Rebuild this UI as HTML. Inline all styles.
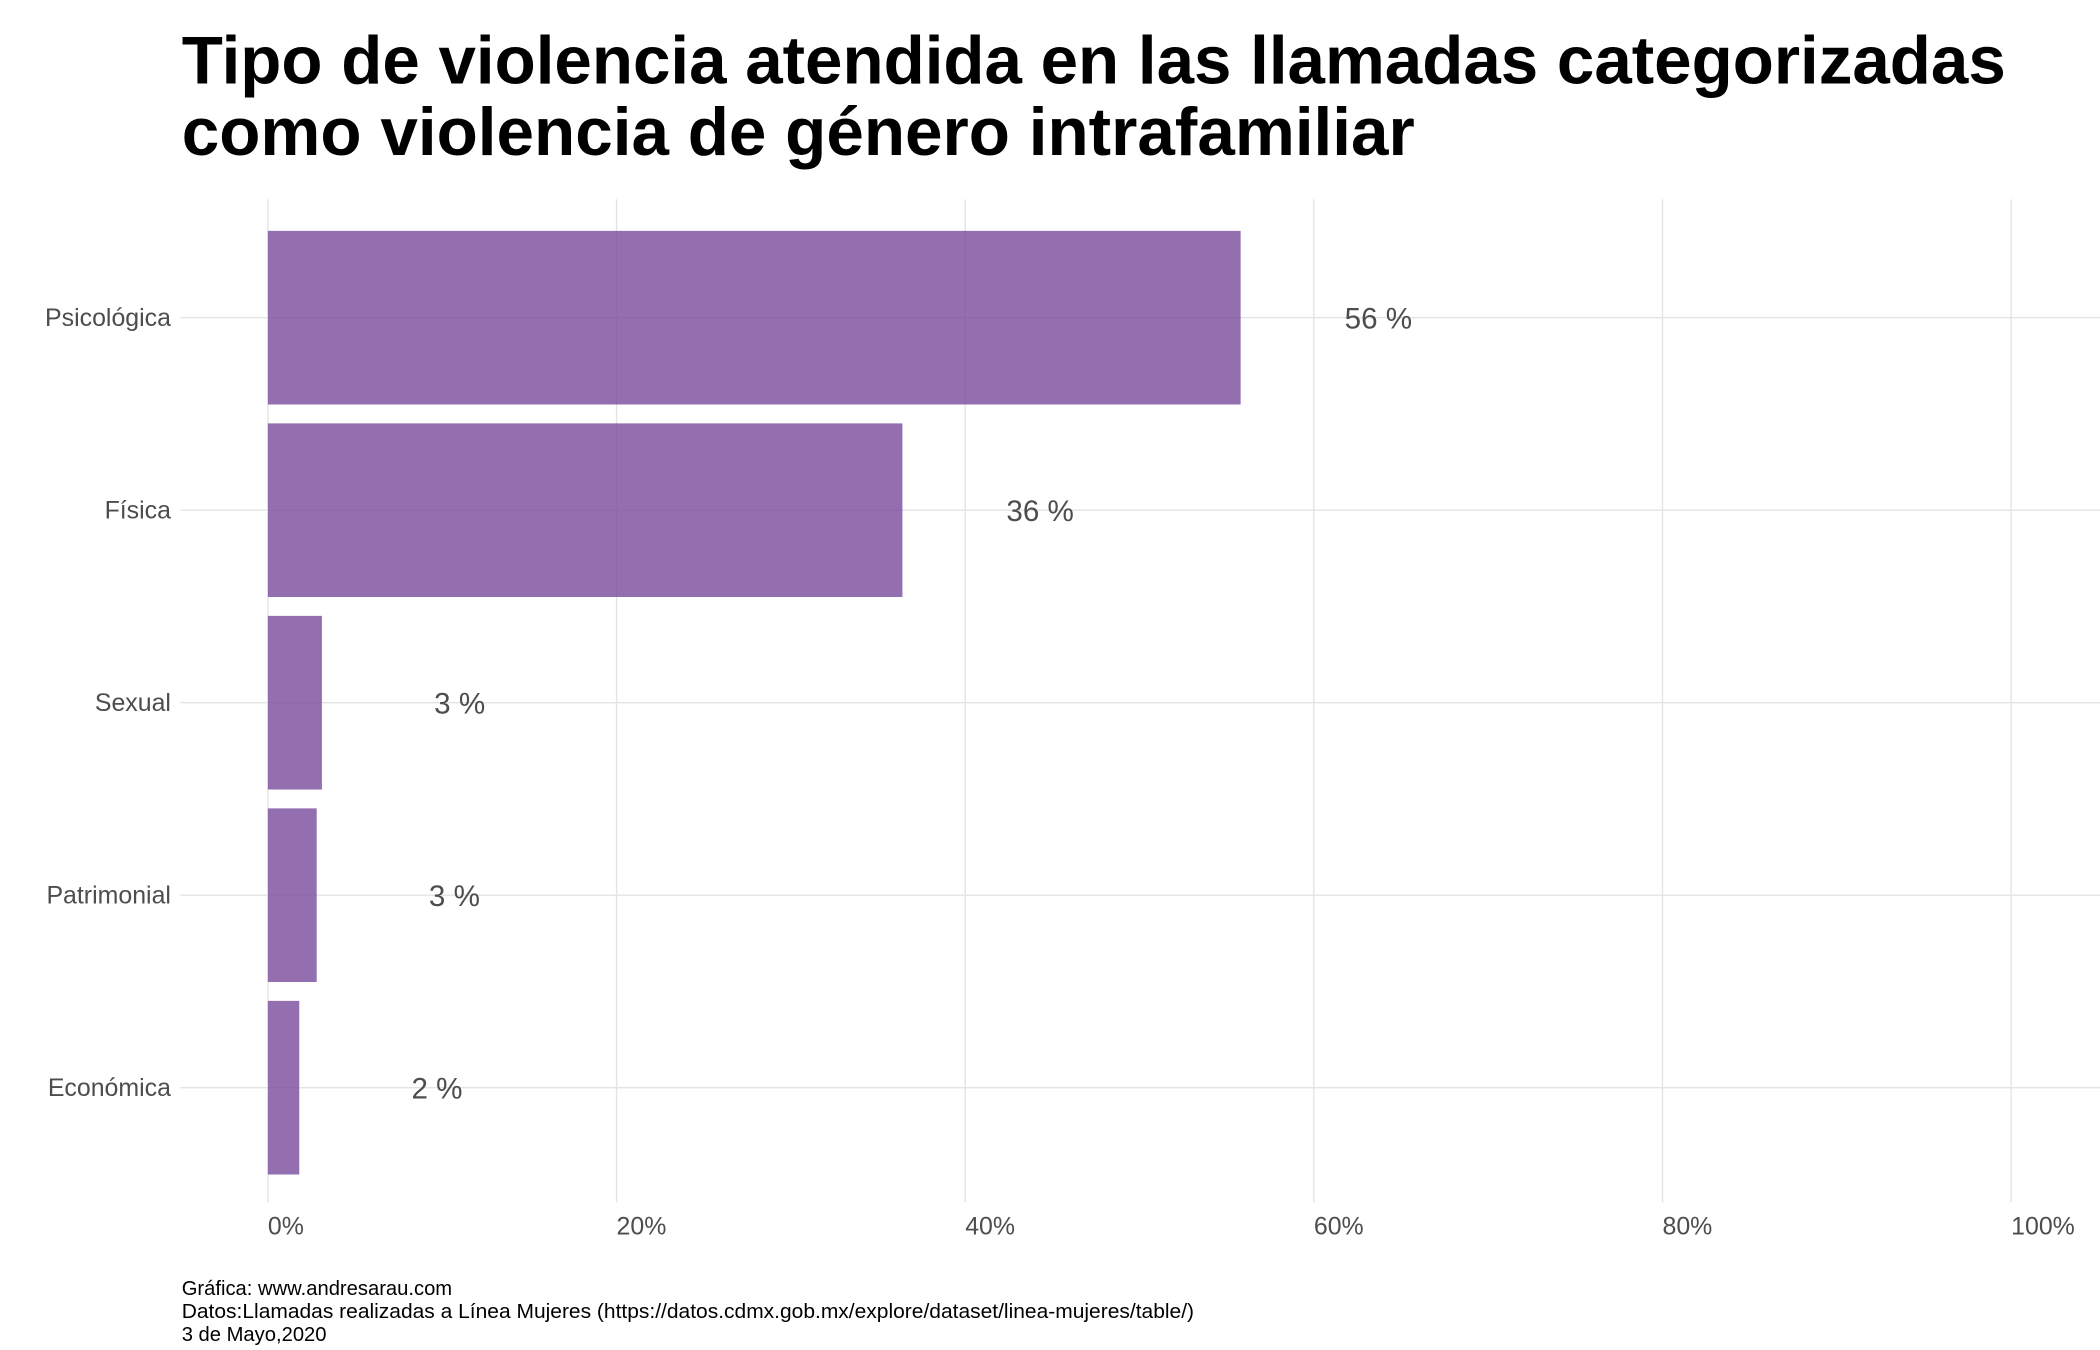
<!DOCTYPE html>
<html><head><meta charset="utf-8"><style>html,body{margin:0;padding:0;background:#fff}svg{display:block}</style></head>
<body>
<svg id="chart" width="2100" height="1350" viewBox="0 0 1560 1002.86" preserveAspectRatio="none" xmlns="http://www.w3.org/2000/svg" font-family="'Liberation Sans', Arial, sans-serif">
<text x="135" y="62" font-size="50" font-weight="bold" fill="#000" textLength="1355" lengthAdjust="spacingAndGlyphs">Tipo de violencia atendida en las llamadas categorizadas</text>
<text x="135" y="115" font-size="50" font-weight="bold" fill="#000" textLength="916" lengthAdjust="spacingAndGlyphs">como violencia de género intrafamiliar</text>
<g id="grid"></g><g id="bars"></g><g id="labels"></g>
<g font-size="15" fill="#000">
<text x="135" y="962">Gráfica: www.andresarau.com</text>
<text x="135" y="979" textLength="752" lengthAdjust="spacingAndGlyphs">Datos:Llamadas realizadas a Línea Mujeres (https://datos.cdmx.gob.mx/explore/dataset/linea-mujeres/table/)</text>
<text x="135" y="996">3 de Mayo,2020</text>
</g>
</svg>
<script>
const categories = ["Psicológica","Física","Sexual","Patrimonial","Económica"];
const values = [55.8, 36.4, 3.1, 2.8, 1.8];
const valueLabels = ["56 %","36 %","3 %","3 %","2 %"];
const xTicks = [0,20,40,60,80,100];
const xTickLabels = ["0%","20%","40%","60%","80%","100%"];
const NS="http://www.w3.org/2000/svg";
const x = v => 199 + v*12.95;
const y = i => 236 + i*143;
function mk(tag, attrs, parent, txt){const e=document.createElementNS(NS,tag);for(const k in attrs)e.setAttribute(k,attrs[k]);if(txt!==undefined)e.textContent=txt;parent.appendChild(e);return e;}
const grid=document.getElementById('grid'), bars=document.getElementById('bars'), labels=document.getElementById('labels');
xTicks.forEach((t,i)=>{
  const l=mk('line',{x1:x(t),x2:x(t),y1:148,y2:893,stroke:'#e3e3e3','stroke-width':1},grid);
  
  
  const tx=mk('text',{x:x(t),y:917,'font-size':18.5,fill:'#4d4d4d'},labels,xTickLabels[i]);
  
  
});
categories.forEach((c,i)=>{
  const l=mk('line',{x1:134,x2:1560,y1:y(i),y2:y(i),stroke:'#e3e3e3','stroke-width':1},grid);
  
  
  const r=mk('rect',{x:x(0),y:y(i)-64.5,width:x(values[i])-x(0),height:129,fill:'#7d4f9f','fill-opacity':0.82},bars);
  
  
  const yl=mk('text',{x:127,y:y(i)+6,'font-size':18.5,fill:'#4d4d4d','text-anchor':'end'},labels,c);
  
  
  const vl=mk('text',{x:x(values[i]+7.9),y:y(i)+8,'font-size':22,fill:'#4d4d4d','text-anchor':'middle'},labels,valueLabels[i]);
  
  
});
</script>
</body></html>
